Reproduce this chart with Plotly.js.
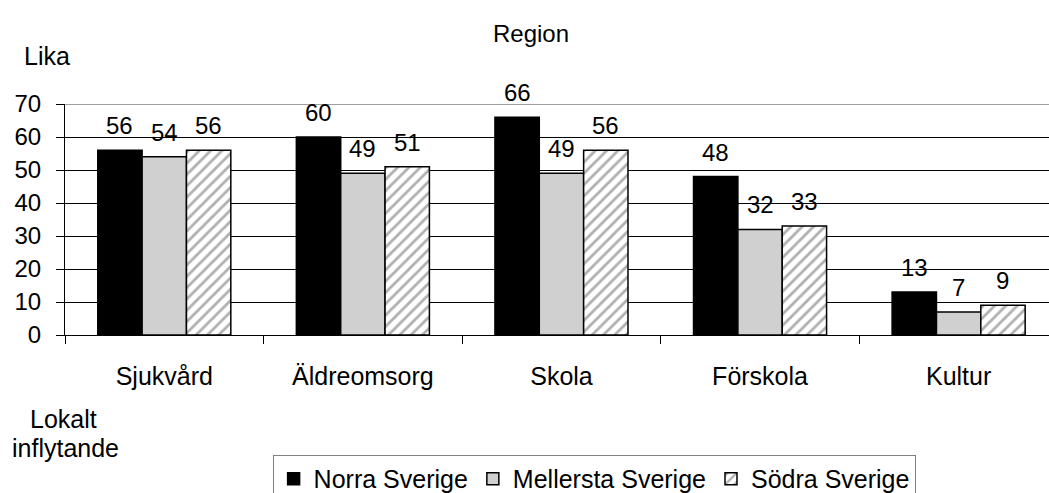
<!DOCTYPE html>
<html>
<head>
<meta charset="utf-8">
<script src="https://cdn.plot.ly/plotly-3.0.1.min.js"></script>
<style>html,body{margin:0;padding:0;background:#fff;}#chart{width:1049px;height:493px;}</style>
</head>
<body>
<div id="chart"></div>
<script>
var categories = ["Sjukvård", "Äldreomsorg", "Skola", "Förskola", "Kultur"];
var seriesNames = ["Norra Sverige", "Mellersta Sverige", "Södra Sverige"];
var norra = [56, 60, 66, 48, 13];
var mellersta = [54, 49, 49, 32, 7];
var sodra = [56, 51, 56, 33, 9];
var yTicks = [0, 10, 20, 30, 40, 50, 60, 70];

var FONT = "Liberation Sans, Arial, sans-serif";
var lineStyle = {color: "#000", width: 1.5};

var traces = [
  {type: "bar", name: seriesNames[0], x: categories, y: norra,
   marker: {color: "#000000", line: lineStyle}, hoverinfo: "none"},
  {type: "bar", name: seriesNames[1], x: categories, y: mellersta,
   marker: {color: "#d0d0d0", line: lineStyle}, hoverinfo: "none"},
  {type: "bar", name: seriesNames[2], x: categories, y: sodra,
   marker: {color: "#ffffff", line: lineStyle,
            pattern: {shape: "/", fgcolor: "#b0b0b0", bgcolor: "#ffffff", size: 8, solidity: 0.35}},
   hoverinfo: "none"}
];

var allSeries = [norra, mellersta, sodra];
var annotations = [];
var barPx = 44.3;
allSeries.forEach(function(vals, s) {
  vals.forEach(function(v, j) {
    annotations.push({
      x: categories[j], y: v, xref: "x", yref: "y",
      text: String(v), showarrow: false,
      xshift: (s - 1) * barPx, yshift: 9, yanchor: "bottom",
      font: {family: FONT, size: 24, color: "#000"}
    });
  });
});

annotations.push(
  {text: "Region", xref: "paper", yref: "paper", x: 0.4736, y: 1.307, showarrow: false,
   xanchor: "center", yanchor: "middle", font: {family: FONT, size: 24, color: "#000"}},
  {text: "Lika", xref: "paper", yref: "paper", x: -0.0183, y: 1.208, showarrow: false,
   xanchor: "center", yanchor: "middle", font: {family: FONT, size: 25, color: "#000"}},
  {text: "Lokalt", xref: "paper", yref: "paper", x: -0.002, y: -0.364, showarrow: false,
   xanchor: "center", yanchor: "middle", font: {family: FONT, size: 25, color: "#000"}},
  {text: "inflytande", xref: "paper", yref: "paper", x: 0.001, y: -0.489, showarrow: false,
   xanchor: "center", yanchor: "middle", font: {family: FONT, size: 25, color: "#000"}}
);

var layout = {
  width: 1049, height: 493,
  margin: {l: 65, r: 0, t: 104, b: 158, pad: 0, autoexpand: false},
  paper_bgcolor: "#fff", plot_bgcolor: "#fff",
  font: {family: FONT, size: 24, color: "#000"},
  barmode: "group", bargap: 0.33, bargroupgap: 0,
  showlegend: true,
  legend: {orientation: "h", x: 0.211, xanchor: "left", y: -0.519, yanchor: "top",
           bordercolor: "#808080", borderwidth: 1, font: {family: FONT, size: 25, color: "#000"},
           itemwidth: 30, traceorder: "normal"},
  xaxis: {type: "category", range: [-0.5, 4.455], showgrid: false, zeroline: false,
          showline: true, linecolor: "#000", linewidth: 1, automargin: false,
          ticks: "outside", tickson: "boundaries", ticklen: 8, tickcolor: "#000", tickwidth: 1,
          ticklabelstandoff: 19,
          tickfont: {family: FONT, size: 25, color: "#000"}, fixedrange: true},
  yaxis: {range: [0, 70], tickvals: yTicks, ticktext: yTicks.map(String),
          showgrid: true, gridcolor: "#000", gridwidth: 1, zeroline: false, automargin: false,
          showline: true, linecolor: "#000", linewidth: 1,
          ticks: "outside", ticklen: 8, tickcolor: "#000", tickwidth: 1,
          ticklabelstandoff: 10,
          tickfont: {family: FONT, size: 24, color: "#000"}, fixedrange: true},
  shapes: [{type: "line", xref: "x", yref: "y", x0: -0.5, x1: 4.455, y0: 70, y1: 70,
            line: {color: "#a0a0a0", width: 2}, layer: "above"}],
  annotations: annotations
};

Plotly.newPlot("chart", traces, layout, {displayModeBar: false, staticPlot: true});
</script>
</body>
</html>
